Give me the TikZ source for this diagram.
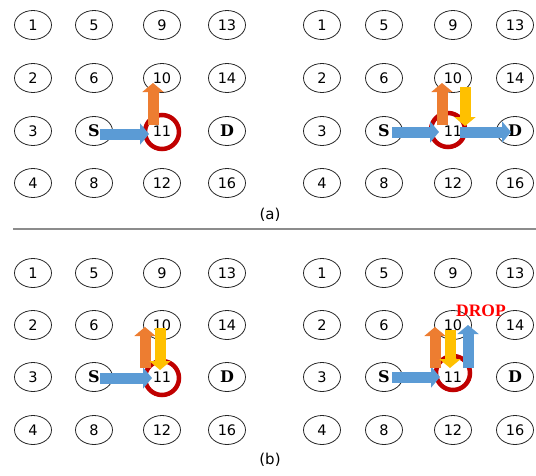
\documentclass[tikz,border=0pt]{standalone}
\usepackage{fontspec}
\setmainfont{DejaVu Sans}
\newfontfamily\sdfont{DejaVu Serif}
\newfontfamily\dropfont{Liberation Serif}
\usetikzlibrary{shapes.geometric,arrows.meta,calc}
\definecolor{arrblue}{HTML}{5B9BD5}
\definecolor{arrorange}{HTML}{ED7D31}
\definecolor{arryellow}{HTML}{FFC000}
\definecolor{ringred}{HTML}{C00000}
\definecolor{sepgray}{HTML}{8C8C8C}
\tikzset{
  nd/.style={ellipse,draw=black!85,line width=0.8pt,minimum width=37pt,minimum height=29pt,inner sep=0pt,font=\fontsize{14.5}{16}\selectfont},
  blk/.style={line width=11pt,-{Triangle[width=21pt,length=9pt]}},
  barr/.style={blk,draw=arrblue},
  oarr/.style={blk,draw=arrorange},
  yarr/.style={blk,draw=arryellow},
  redring/.style={draw=ringred,line width=4.5pt},
  lbl/.style={font=\fontsize{15}{17}\selectfont}
}
\newcommand{\mygrid}[9]{%
  \foreach \c/\xx in {0/#2,1/#3,2/#4,3/#5}{%
    \foreach \r/\yy in {1/#6,2/#7,3/#8,4/#9}{%
      \pgfmathtruncatemacro\k{\c*4+\r}%
      \ifnum\k=11
        \node[nd,draw=none] (#1\k) at (\xx,\yy) {\k};
      \else
        \node[nd] (#1\k) at (\xx,\yy) {\ifnum\k=7 {\sdfont\bfseries\fontsize{16}{18}\selectfont S}\else\ifnum\k=15 {\sdfont\bfseries\fontsize{16}{18}\selectfont D}\else\k\fi\fi};
      \fi
    }}}
\begin{document}
\begin{tikzpicture}[x=1pt,y=-1pt]
\useasboundingbox (0,0) rectangle (536,475);
% grids
\mygrid{A}{33}{94}{162}{227}{25}{78}{131}{183}
\mygrid{B}{322}{384}{453}{515}{25}{78}{131}{183}
\mygrid{C}{33}{94}{162}{227}{273}{325}{377}{430}
\mygrid{D}{322}{384}{453}{515}{273}{325}{377}{430}
% red rings
\draw[redring] ($(A11)+(0,1)$) circle (17);
\draw[redring] ($(B11)+(-5,-1)$) circle (17);
\draw[redring] ($(C11)+(0,1)$) circle (17);
\draw[redring] ($(D11)+(0,-4)$) circle (17);
% panel A
\draw[barr] ($(A7)+(6,3)$) -- ($(A11)+(-13,3)$);
\draw[oarr] ($(A11)+(-9,-6)$) -- ($(A11)+(-9,-48)$);
% panel B
\draw[barr] ($(B7)+(8,1)$) -- ($(B11)+(-14,1)$);
\draw[barr] ($(B11)+(7,1)$) -- ($(B15)+(-4,1)$);
\draw[oarr] ($(B11)+(-11,-6)$) -- ($(B11)+(-11,-48)$);
\draw[yarr] ($(B11)+(12,-44)$) -- ($(B11)+(12,-5)$);
% panel C
\draw[barr] ($(C7)+(6,1)$) -- ($(C11)+(-10,1)$);
\draw[oarr] ($(C11)+(-17,-9)$) -- ($(C11)+(-17,-50)$);
\draw[yarr] ($(C11)+(-2,-49)$) -- ($(C11)+(-2,-7)$);
% panel D
\draw[barr] ($(D7)+(8,0)$) -- ($(D11)+(-13,0)$);
\draw[oarr] ($(D11)+(-18,-9)$) -- ($(D11)+(-18,-50)$);
\draw[yarr] ($(D11)+(-3,-47)$) -- ($(D11)+(-3,-9)$);
\draw[barr] ($(D11)+(15,-9)$) -- ($(D11)+(15,-52)$);
\node[text=red,font=\dropfont\bfseries\fontsize{17.5}{19}\selectfont,inner sep=0pt] (drop) at (481,311) {DROP};
% separator and labels
\coordinate (sepL) at (13,229);
\coordinate (sepR) at (536,229);
\draw[sepgray,line width=2pt] (sepL) -- (sepR);
\node[lbl] (la) at (270,215) {(a)};
\node[lbl] (lb) at (270,460) {(b)};
\end{tikzpicture}
\end{document}
